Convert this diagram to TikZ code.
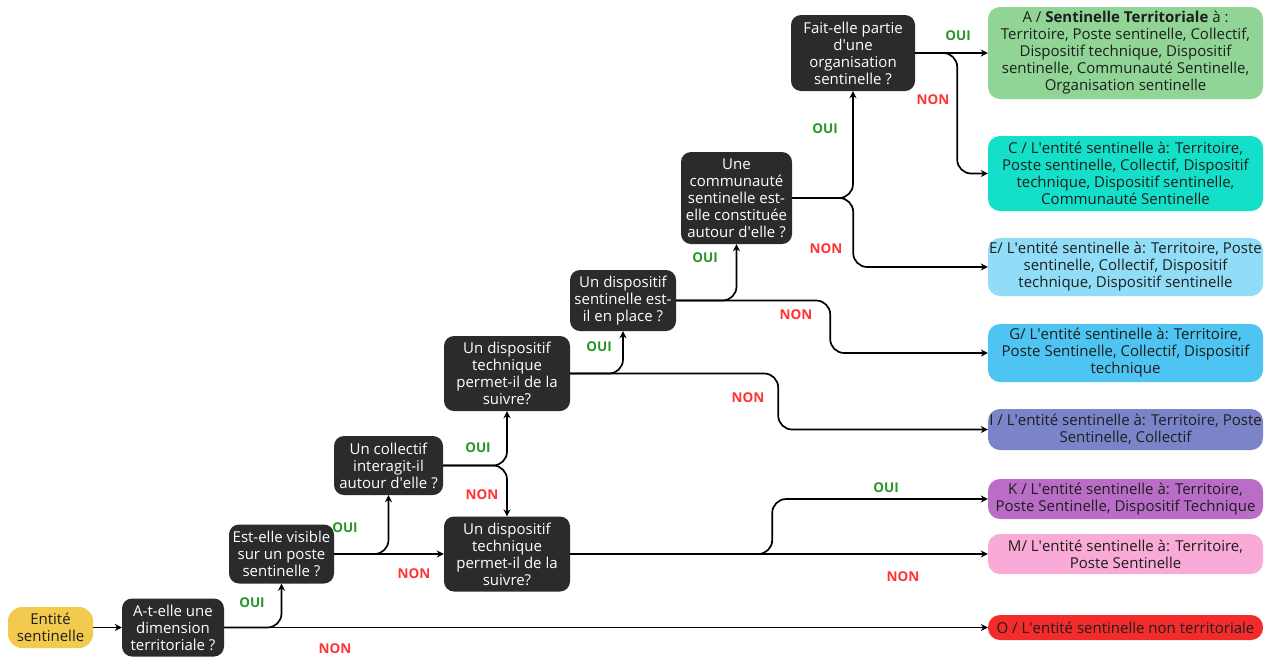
\documentclass[tikz,border=0pt]{standalone}
\usepackage{fontspec}
\setmainfont{Open Sans}
\usetikzlibrary{arrows.meta}
\newcommand{\ap}{\textquotesingle}
\definecolor{qdark}{HTML}{2B2B2B}
\definecolor{txt}{HTML}{1E1E1E}
\definecolor{ylw}{HTML}{F2CB4E}
\definecolor{cA}{HTML}{90D595}
\definecolor{cC}{HTML}{14E0C9}
\definecolor{cE}{HTML}{91DDF7}
\definecolor{cG}{HTML}{4EC4F2}
\definecolor{cI}{HTML}{7B84C9}
\definecolor{cK}{HTML}{B96DC7}
\definecolor{cM}{HTML}{F9AAD6}
\definecolor{cO}{HTML}{F42B2B}
\definecolor{ouig}{HTML}{2A962A}
\definecolor{nonr}{HTML}{FF3333}
\tikzset{
  q/.style={fill=qdark, text=white, rounded corners=10pt, align=center, inner sep=0pt,
    font=\fontsize{15}{17}\selectfont},
  res/.style={fill=#1, text=txt, rounded corners=12pt, align=center, inner sep=0pt,
    minimum width=275pt, font=\fontsize{15}{17}\selectfont},
  conn/.style={line width=1.7pt, -{Stealth[length=7pt,width=7pt]}, rounded corners=14pt},
  oui/.style={text=ouig, font=\bfseries\fontsize{13.5}{15}\selectfont},
  non/.style={text=nonr, font=\bfseries\fontsize{13.5}{15}\selectfont}
}
\begin{document}
\begin{tikzpicture}[x=1pt,y=-1pt]
\useasboundingbox (0,0) rectangle (1271,657);
% start
\node[fill=ylw, text=txt, rounded corners=14pt, align=center, inner sep=0pt,
  minimum width=85pt, minimum height=41pt, font=\fontsize{15}{17}\selectfont] (ent) at (50.5,627.5) {Entité\\sentinelle};
% questions
\node[q, minimum width=102pt, minimum height=58pt] (q1) at (173,627.5) {A-t-elle une\\dimension\\territoriale ?};
\node[q, minimum width=105pt, minimum height=59pt] (q2) at (281.5,554) {Est-elle visible\\sur un poste\\sentinelle ?};
\node[q, minimum width=109pt, minimum height=59pt] (coll) at (388.5,465.5) {Un collectif\\interagit-il\\autour d\ap elle ?};
\node[q, minimum width=126pt, minimum height=75pt] (dt1) at (507,373.5) {Un dispositif\\technique\\permet-il de la\\suivre?};
\node[q, minimum width=126pt, minimum height=75pt] (dt2) at (507,554) {Un dispositif\\technique\\permet-il de la\\suivre?};
\node[q, minimum width=106pt, minimum height=61pt] (ds) at (623,300.5) {Un dispositif\\sentinelle est-\\il en place ?};
\node[q, minimum width=111pt, minimum height=92pt] (comm) at (736.5,198) {Une\\communauté\\sentinelle est-\\elle constituée\\autour d\ap elle ?};
\node[q, minimum width=124pt, minimum height=76pt] (fait) at (853,53) {Fait-elle partie\\d\ap une\\organisation\\sentinelle ?};
% results
\node[res=cA, minimum height=92pt] (A) at (1125.5,53) {A / \textbf{Sentinelle Territoriale} à :\\Territoire, Poste sentinelle, Collectif,\\Dispositif technique, Dispositif\\sentinelle, Communauté Sentinelle,\\Organisation sentinelle};
\node[res=cC, minimum height=75pt] (C) at (1125.5,173.5) {C / L\ap entité sentinelle à: Territoire,\\Poste sentinelle, Collectif, Dispositif\\technique, Dispositif sentinelle,\\Communauté Sentinelle};
\node[res=cE, minimum height=58pt] (E) at (1125.5,267) {E/ L\ap entité sentinelle à: Territoire, Poste\\sentinelle, Collectif, Dispositif\\technique, Dispositif sentinelle};
\node[res=cG, minimum height=58pt] (G) at (1125.5,353) {G/ L\ap entité sentinelle à: Territoire,\\Poste Sentinelle, Collectif, Dispositif\\technique};
\node[res=cI, minimum height=41pt] (I) at (1125.5,429.5) {I / L\ap entité sentinelle à: Territoire, Poste\\Sentinelle, Collectif};
\node[res=cK, minimum height=40pt] (K) at (1125.5,499) {K / L\ap entité sentinelle à: Territoire,\\Poste Sentinelle, Dispositif Technique};
\node[res=cM, minimum height=40pt] (M) at (1125.5,554) {M/ L\ap entité sentinelle à: Territoire,\\Poste Sentinelle};
\node[res=cO, minimum height=25pt] (O) at (1125.5,627.5) {O / L\ap entité sentinelle non territoriale};
% connectors
\draw[conn] (ent) -- (q1);
\draw[conn] (q1.east) -- (O.west);
\draw[conn] (q1.east) -| (q2.south);
\draw[conn] (q2.east) -- (dt2.west);
\draw[conn] (q2.east) -| (coll.south);
\draw[conn] (coll.east) -| (dt1.south);
\draw[conn] (coll.east) -| (dt2.north);
\draw[conn] (dt1.east) -| (ds.south);
\draw[conn] (dt1.east) -- ++(208,0) |- (I.west);
\draw[conn] (ds.east) -| (comm.south);
\draw[conn] (ds.east) -- ++(154,0) |- (G.west);
\draw[conn] (comm.east) -| (fait.south);
\draw[conn] (comm.east) -- ++(61,0) |- (E.west);
\draw[conn] (fait.east) -- (A.west);
\draw[conn] (fait.east) -- ++(42,0) |- (C.west);
\draw[conn] (dt2.east) -- (M.west);
\draw[conn] (dt2.east) -- ++(202,0) |- (K.west);
% labels
\node[oui] (o1) at (252,603) {OUI};
\node[oui] (o2) at (345,528) {OUI};
\node[oui] (o3) at (478,448) {OUI};
\node[oui] (o4) at (599,347) {OUI};
\node[oui] (o5) at (705,258) {OUI};
\node[oui] (o6) at (825,129) {OUI};
\node[oui] (o7) at (958,36) {OUI};
\node[oui] (o8) at (886,488) {OUI};
\node[non] (n1) at (335,649) {NON};
\node[non] (n2) at (414,574) {NON};
\node[non] (n3) at (482,495) {NON};
\node[non] (n4) at (748,398) {NON};
\node[non] (n5) at (796,315) {NON};
\node[non] (n6) at (826,249) {NON};
\node[non] (n7) at (933,100) {NON};
\node[non] (n8) at (903,577) {NON};
\end{tikzpicture}
\end{document}
